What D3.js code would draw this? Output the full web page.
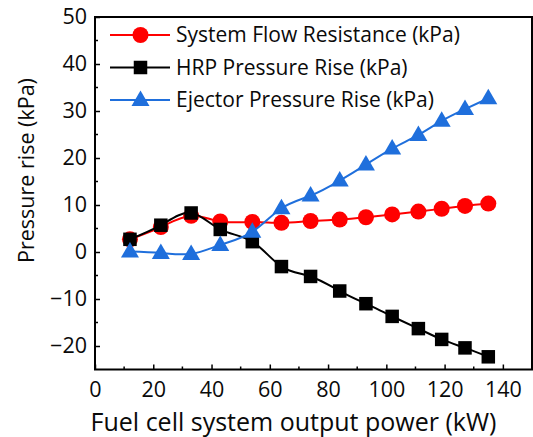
<!DOCTYPE html>
<html>
<head>
<meta charset="utf-8">
<script src="https://cdn.jsdelivr.net/npm/d3@7"></script>
<style>
  html, body { margin: 0; padding: 0; background: #fff; }
  svg { display: block; }
  text { font-family: "Open Sans", sans-serif; fill: #0a0a0a; }
</style>
</head>
<body>
<svg id="chart" width="533" height="437"></svg>
<script>
// Fuel cell output power (kW)
const power = [12, 22.6, 33, 43, 54, 64, 74, 84, 93, 102, 111, 119, 127, 135];
// Pressure values (kPa)
const flowResistance = [2.7, 5.3, 7.7, 6.5, 6.4, 6.2, 6.6, 6.9, 7.4, 8.0, 8.6, 9.2, 9.8, 10.3];
const hrpRise = [2.7, 5.7, 8.3, 4.8, 2.2, -3.1, -5.2, -8.3, -11.0, -13.7, -16.3, -18.6, -20.4, -22.3];
const ejectorRise = [0.1, -0.2, -0.4, 1.5, 4.3, 9.3, 12.0, 15.2, 18.6, 22.0, 24.9, 27.9, 30.4, 32.7];

const seriesNames = ["System Flow Resistance (kPa)", "HRP Pressure Rise (kPa)", "Ejector Pressure Rise (kPa)"];
const xTicks = [0, 20, 40, 60, 80, 100, 120, 140];
const yTicks = [-20, -10, 0, 10, 20, 30, 40, 50];

const svg = d3.select("#chart");
const plot = { left: 95, right: 532, top: 17, bottom: 369.5 };

const x = d3.scaleLinear().domain([0, 150]).range([plot.left, plot.right]);
const y = d3.scaleLinear().domain([-25, 50]).range([plot.bottom, plot.top]);

// Axes with inward major and minor ticks
const xMinor = d3.range(10, 150, 20);
const yMinor = d3.range(-15, 50, 10);

const gx = svg.append("g").attr("transform", `translate(0,${plot.bottom})`);
gx.call(d3.axisBottom(x).tickValues(xTicks).tickSizeInner(-5).tickSizeOuter(0));
gx.selectAll(".tick text").attr("font-size", 21.5).attr("dy", 0).attr("y", 27);
gx.append("g").selectAll("line").data(xMinor).join("line")
  .attr("x1", d => x(d)).attr("x2", d => x(d)).attr("y1", 0).attr("y2", -3)
  .attr("stroke", "#000").attr("stroke-width", 1.5);

const gy = svg.append("g").attr("transform", `translate(${plot.left},0)`);
gy.call(d3.axisLeft(y).tickValues(yTicks).tickSizeInner(-5).tickSizeOuter(0));
gy.selectAll(".tick text").attr("font-size", 21.5).attr("x", -8);
gy.append("g").selectAll("line").data(yMinor).join("line")
  .attr("y1", d => y(d)).attr("y2", d => y(d)).attr("x1", 0).attr("x2", 3)
  .attr("stroke", "#000").attr("stroke-width", 1.5);

svg.selectAll(".domain").remove();
svg.selectAll(".tick line").attr("stroke", "#000").attr("stroke-width", 1.5);

// Plot frame
svg.append("rect")
  .attr("x", plot.left).attr("y", plot.top)
  .attr("width", plot.right - plot.left).attr("height", plot.bottom - plot.top)
  .attr("fill", "none").attr("stroke", "#000").attr("stroke-width", 2);

// Axis titles
svg.append("text")
  .attr("x", 293.5).attr("y", 431)
  .attr("text-anchor", "middle").attr("font-size", 25)
  .text("Fuel cell system output power (kW)");
svg.append("text")
  .attr("transform", "translate(34,170.5) rotate(-90)")
  .attr("text-anchor", "middle").attr("font-size", 21.5)
  .text("Pressure rise (kPa)");

// Series
const series = [
  { name: seriesNames[0], values: flowResistance, color: "#ff0000", shape: "circle" },
  { name: seriesNames[1], values: hrpRise, color: "#000000", shape: "square" },
  { name: seriesNames[2], values: ejectorRise, color: "#1f6fdc", shape: "triangle" }
];

const line = d3.line().x(d => x(d[0])).y(d => y(d[1])).curve(d3.curveNatural);

function drawMarker(g, shape, cx, cy, color) {
  if (shape === "circle") {
    g.append("circle").attr("cx", cx).attr("cy", cy).attr("r", 8).attr("fill", color);
  } else if (shape === "square") {
    g.append("rect").attr("x", cx - 6.75).attr("y", cy - 6.75).attr("width", 13.5).attr("height", 13.5).attr("fill", color);
  } else {
    g.append("path")
      .attr("d", `M${cx},${cy - 9.5}L${cx + 9},${cy + 6}L${cx - 9},${cy + 6}Z`)
      .attr("fill", color);
  }
}

series.forEach(s => {
  const pts = power.map((p, i) => [p, s.values[i]]);
  const g = svg.append("g");
  g.append("path").datum(pts).attr("d", line)
    .attr("fill", "none").attr("stroke", s.color).attr("stroke-width", 2);
  pts.forEach(p => drawMarker(g, s.shape, x(p[0]), y(p[1]), s.color));
});

// Legend
const legend = svg.append("g");
const legendY = d3.scalePoint().domain(seriesNames).range([35, 100]);
series.forEach(s => {
  const ly = legendY(s.name);
  legend.append("line").attr("x1", 110).attr("x2", 170).attr("y1", ly).attr("y2", ly)
    .attr("stroke", s.color).attr("stroke-width", 2);
  drawMarker(legend, s.shape, 140.5, ly, s.color);
  legend.append("text").attr("x", 176).attr("y", ly).attr("dy", "0.35em")
    .attr("font-size", 21).text(s.name);
});
</script>
</body>
</html>
